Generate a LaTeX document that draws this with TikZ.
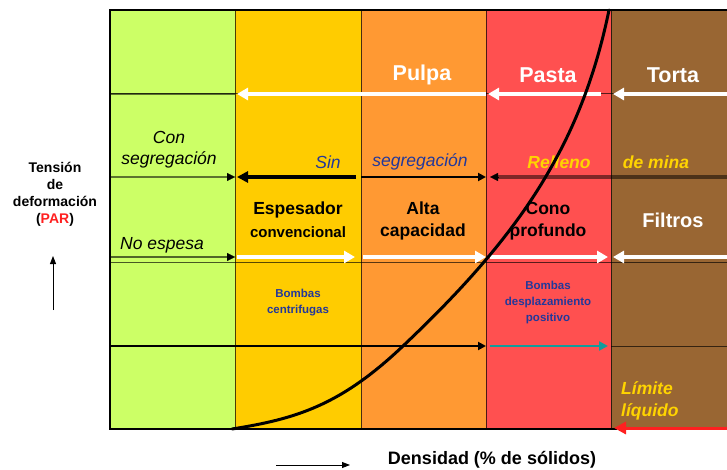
\documentclass[tikz,border=0pt]{standalone}
\usepackage{fontspec}
\setmainfont{Liberation Sans}
\usetikzlibrary{arrows.meta,calc}
\definecolor{cgreen}{HTML}{CCFF66}
\definecolor{cyellow}{HTML}{FFCC00}
\definecolor{corange}{HTML}{FF9933}
\definecolor{cred}{HTML}{FF5050}
\definecolor{cbrown}{HTML}{996633}
\definecolor{tblue}{HTML}{23389A}
\definecolor{tyellow}{HTML}{FFD400}
\definecolor{cteal}{HTML}{129C9C}
\definecolor{tred}{HTML}{FF2020}
\tikzset{
  rowline/.style={draw=black, draw opacity=0.65, line width=1pt},
  colline/.style={draw=black, draw opacity=0.7, line width=0.8pt},
  warrow/.style={draw=white, line width=3.2pt, -{Triangle[length=11pt,width=12pt]}},
  barrow/.style={draw=black, line width=2.2pt, -{Triangle[length=8pt,width=8pt]}},
  head/.style={text=white, font=\bfseries\fontsize{21.5}{24}\selectfont, inner sep=0pt},
  eq/.style={text=black, font=\bfseries\fontsize{17.5}{22}\selectfont, align=center, inner sep=0pt},
  itb/.style={font=\itshape\fontsize{17.5}{21}\selectfont, inner sep=0pt},
  ity/.style={text=tyellow, font=\bfseries\itshape\fontsize{17.5}{22}\selectfont, inner sep=0pt},
  pump/.style={text=tblue, font=\bfseries\fontsize{11.5}{16}\selectfont, align=center, inner sep=0pt},
}
\begin{document}
\begin{tikzpicture}[x=1pt,y=-1pt]
\useasboundingbox (0,0) rectangle (727,470);
% columns
\fill[cgreen]  (110,10) rectangle (235,429);
\fill[cyellow] (235,10) rectangle (361,429);
\fill[corange] (361,10) rectangle (486,429);
\fill[cred]    (486,10) rectangle (611,429);
\fill[cbrown]  (611,10) rectangle (727,429);
% column lines
\foreach \x in {235,361,486,611} \draw[colline] (\x,10) -- (\x,429);
% row lines
\draw[rowline] (110,94) -- (727,94);
\draw[rowline] (110,262) -- (727,262);
\draw[rowline] (611,346) -- (727,346);
\draw[draw=black, draw opacity=0.55, line width=2.2pt] (110,94) -- (235,94);
% coordinates
\coordinate (p1a) at (486,94);  \coordinate (p1b) at (237,94);
\coordinate (p2a) at (601,94);  \coordinate (p2b) at (488,94);
\coordinate (p3a) at (727,94);  \coordinate (p3b) at (613,94);
\coordinate (s0a) at (110,177); \coordinate (s0b) at (235,177);
\coordinate (s1a) at (356,177); \coordinate (s1b) at (237,177);
\coordinate (s2a) at (361,177); \coordinate (s2b) at (486,177);
\coordinate (s3a) at (727,177); \coordinate (s3m) at (498,177); \coordinate (s3b) at (490,177);
\coordinate (e0a) at (110,257); \coordinate (e0b) at (235,257);
\coordinate (e1a) at (237,257); \coordinate (e1b) at (355,257);
\coordinate (e2a) at (363,257); \coordinate (e2b) at (486,257);
\coordinate (e3a) at (490,257); \coordinate (e3b) at (608,257);
\coordinate (e4a) at (727,257); \coordinate (e4b) at (613,257);
\coordinate (b0a) at (110,346); \coordinate (b0b) at (486,346);
\coordinate (b1a) at (490,346); \coordinate (b1b) at (608,346);
\coordinate (ra) at (727,428);  \coordinate (rb) at (614,428);
% white arrows top row
\draw[warrow] (p1a) -- (p1b);
\draw[warrow] (p2a) -- (p2b);
\draw[warrow] (p3a) -- (p3b);
% segregation row
\draw[draw=black, draw opacity=0.55, line width=2.6pt] (s0a) -- ($(s0b)+(-6,0)$);
\draw[-{Triangle[length=8pt,width=8pt]}, black, line width=0.1pt] ($(s0b)+(-8,0)$) -- (s0b);
\draw[black, line width=3.4pt, -{Triangle[length=11pt,width=11pt]}] (s1a) -- (s1b);
\draw[barrow] (s2a) -- (s2b);
\draw[draw=black, draw opacity=0.5, line width=3.2pt] (s3a) -- (s3m);
\draw[-{Triangle[length=8pt,width=8pt]}, black, line width=0.1pt] (s3m) -- (s3b);
% espesa row
\draw[draw=black, draw opacity=0.6, line width=1.4pt] (e0a) -- ($(e0b)+(-6,0)$);
\draw[-{Triangle[length=8pt,width=8pt]}, black, line width=0.1pt] ($(e0b)+(-8,0)$) -- (e0b);
\draw[warrow] (e1a) -- (e1b);
\draw[warrow] (e2a) -- (e2b);
\draw[warrow] (e3a) -- (e3b);
\draw[warrow] (e4a) -- (e4b);
% pump row
\draw[barrow] (b0a) -- (b0b);
\draw[cteal, line width=2.4pt, -{Triangle[length=9pt,width=9pt]}] (b1a) -- (b1b);
% frame
\draw[black, line width=2.8pt] (727,10) -- (110,10) -- (110,429) -- (617,429);
\draw[tred, line width=3pt, -{Triangle[length=12pt,width=12pt]}] (ra) -- (rb);
% texts
\node[head] (pulpa) at (422,75) {Pulpa};
\node[head] (pasta) at (548,75) {Pasta};
\node[head] (torta) at (673,75) {Torta};
\node[itb, align=center] (con) at (169,150) {Con\\segregación};
\node[itb, text=tblue] (sin) at (328,162) {Sin};
\node[itb, text=tblue] (segr) at (420,162) {segregación};
\node[ity] (rell) at (559,162) {Relleno};
\node[ity] (mina) at (656,162) {de mina};
\node[itb] (noesp) at (162,245) {No espesa};
\node[eq] (esp) at (298,210) {Espesador};
\node[text=black, font=\bfseries\fontsize{15}{18}\selectfont, inner sep=0pt] (conv) at (298,232) {convencional};
\node[eq] (alta) at (423,221) {Alta\\capacidad};
\node[eq] (cono) at (548,221) {Cono\\profundo};
\node[text=white, font=\bfseries\fontsize{20}{24}\selectfont, inner sep=0pt] (filt) at (673,220) {Filtros};
\node[pump] (bc) at (298,303) {Bombas\\centrifugas};
\node[pump] (bd) at (548,303) {Bombas\\desplazamiento\\positivo};
\node[ity, align=left, anchor=west] (lim) at (621,401) {Límite\\líquido};
\node[font=\bfseries\fontsize{14}{17}\selectfont, align=center, inner sep=0pt] (tens) at (55,194) {Tensión\\de\\deformación\\(\textcolor{tred}{PAR})};
\node[font=\bfseries\fontsize{18}{22}\selectfont, inner sep=0pt] (dens) at (492,460) {Densidad (\% de sólidos)};
% axis hint arrows
\coordinate (va) at (53,310); \coordinate (vb) at (53,256);
\draw[black, line width=0.9pt, -{Triangle[length=8pt,width=6pt]}] (va) -- (vb);
\coordinate (ha) at (276,465); \coordinate (hb) at (350,465);
\draw[black, line width=0.9pt, -{Triangle[length=8pt,width=6pt]}] (ha) -- (hb);
% curve
\coordinate (c0) at (232,429); \coordinate (c1) at (403,346);
\coordinate (c2) at (553,164); \coordinate (c3) at (609,10);
\draw[black, line width=3pt, line cap=round]
  (c0) .. controls (295,419) and (340,406) .. (c1)
       .. controls (460,292) and (515,233) .. (c2)
       .. controls (580,116) and (598,64) .. (c3);
\end{tikzpicture}
\end{document}
